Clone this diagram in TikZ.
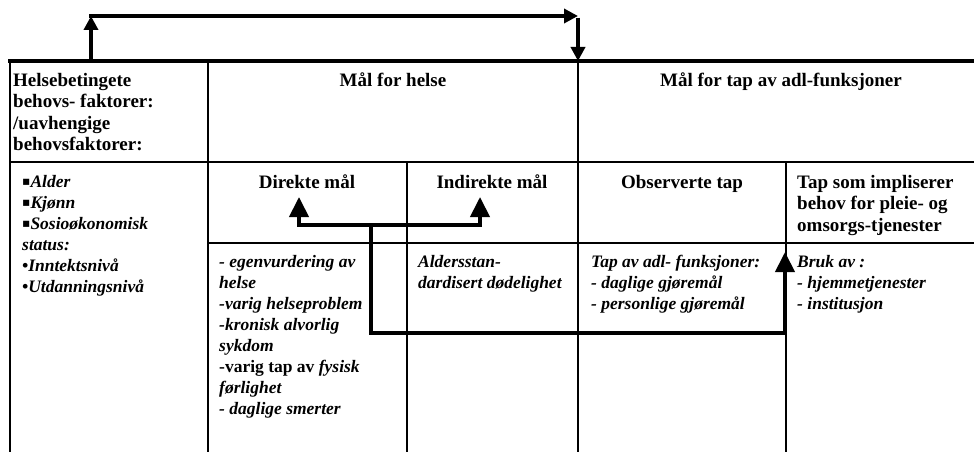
\documentclass[tikz,border=0pt]{standalone}
\usepackage{fontspec}
\usepackage{graphicx}
\setmainfont{Liberation Serif}
\newfontfamily\symfnt{DejaVu Sans}
\usetikzlibrary{arrows.meta}
\newcommand\hdrfont{\fontsize{19}{21.5}\selectfont\bfseries}
\newcommand\itxfont{\fontsize{17.5}{21}\selectfont\bfseries\itshape}
\newcommand\hstrut{\rule{0pt}{17pt}}
\newcommand\istrut{\rule{0pt}{16pt}}
\newcommand\sqb{\raisebox{2pt}{\scalebox{0.7}{\symfnt\upshape ▪}}}
\begin{document}
\begin{tikzpicture}[x=1pt,y=-1pt,
  gridline/.style={line width=1.6pt},
  toprule/.style={line width=4pt},
  pipe/.style={line width=4pt,line cap=rect},
  arrbig/.style={line width=4pt,line cap=rect,-{Triangle[width=19pt,length=20pt]}},
  arrsmall/.style={line width=3.5pt,-{Triangle[width=14pt,length=14pt]}},
  hd/.style={inner sep=0pt,font=\hdrfont,align=left},
  it/.style={inner sep=0pt,font=\itxfont,align=left,anchor=north west}]
\useasboundingbox (0,0) rectangle (974,452);

% table rules
\draw[gridline] (10,61) -- (10,452);
\draw[gridline] (208,61) -- (208,452);
\draw[gridline] (578,61) -- (578,452);
\draw[gridline] (407,162) -- (407,452);
\draw[gridline] (786,162) -- (786,452);
\draw[gridline] (10,162) -- (974,162);
\draw[gridline] (208,243) -- (974,243);
\draw[toprule] (8,61) -- (974,61);

% top arrows
\coordinate (ta) at (91,61);
\coordinate (tb) at (91,16);
\coordinate (tc) at (578,16);
\coordinate (td) at (578,61);
\draw[arrsmall] (ta) -- (tb);
\draw[arrsmall] ([xshift=-1.75pt]tb) -- (tc);
\draw[arrsmall] ([yshift=-1.75pt]tc) -- (td);

% middle arrows
\coordinate (ml) at (299,225);
\coordinate (mr) at (480,225);
\coordinate (dl) at (299,197);
\coordinate (dr) at (480,197);
\coordinate (m2) at (371,225);
\coordinate (m1) at (371,333);
\coordinate (b1) at (785,333);
\coordinate (b2) at (785,252);
\draw[pipe] (ml) -- (mr);
\draw[arrbig] (ml) -- (dl);
\draw[arrbig] (mr) -- (dr);
\draw[arrbig] (m2) -- (m1) -- (b1) -- (b2);

% header row
\node[hd,anchor=north west] (h1) at (13,69) {\hstrut Helsebetingete\\behovs- faktorer:\\/uavhengige\\behovsfaktorer:};
\node[hd,anchor=base] (h2) at (393,86) {Mål for helse};
\node[hd,anchor=base] (h3) at (781,86) {Mål for tap av adl-funksjoner};

% sub-header row
\node[hd,anchor=base] (s1) at (307,188) {Direkte mål};
\node[hd,anchor=base] (s2) at (492,188) {Indirekte mål};
\node[hd,anchor=base] (s3) at (682,188) {Observerte tap};
\node[hd,anchor=north west] (s4) at (797,171) {\hstrut Tap som impliserer\\behov for pleie- og\\omsorgs-tjenester};

% content
\node[it] (c1) at (22,171) {\istrut\sqb Alder\\\sqb Kjønn\\\sqb Sosioøkonomisk\\status:\\•Inntektsnivå\\•Utdanningsnivå};
\node[it] (c2) at (219,251) {\istrut - egenvurdering av\\helse\\-varig helseproblem\\-kronisk alvorlig\\sykdom\\{\upshape -varig tap av} fysisk\\førlighet\\- daglige smerter};
\node[it] (c3) at (418,251) {\istrut Aldersstan-\\dardisert dødelighet};
\node[it] (c4) at (591,251) {\istrut Tap av adl- funksjoner:\\- daglige gjøremål\\- personlige gjøremål};
\node[it] (c5) at (797,251) {\istrut Bruk av :\\- hjemmetjenester\\- institusjon};
\end{tikzpicture}
\end{document}
